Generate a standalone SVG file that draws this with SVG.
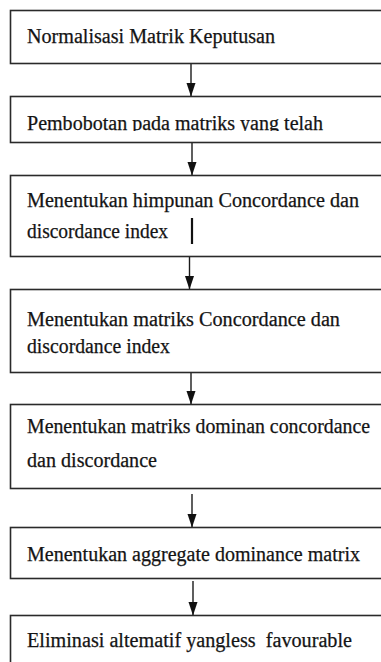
<svg xmlns="http://www.w3.org/2000/svg" width="381" height="662" viewBox="0 0 381 662">
<style>
.box{fill:#fff;stroke:#2a2a2a;stroke-width:1.6}
.t{font-family:"Liberation Serif","Times New Roman",serif;font-size:20px;fill:#141414;stroke:#141414;stroke-width:0.25;white-space:pre}
.c{stroke:#1a1a1a;stroke-width:1.4;fill:none}
</style>
<defs>
<marker id="arr" markerUnits="userSpaceOnUse" markerWidth="14" markerHeight="10" refX="13" refY="5" orient="auto" viewBox="0 0 14 10">
<path d="M0,0.5 L13.5,5 L0,9.5 Z" fill="#111"/>
</marker>
<clipPath id="clip2"><rect x="10" y="96" width="380" height="35"/></clipPath>
</defs>
<rect width="381" height="662" fill="#fff"/>
<g id="connectors">
<line class="c" x1="191" y1="63" x2="191" y2="96" marker-end="url(#arr)"/>
<line class="c" x1="192" y1="142" x2="192" y2="175" marker-end="url(#arr)"/>
<line class="c" x1="189.5" y1="256" x2="189.5" y2="289" marker-end="url(#arr)"/>
<line class="c" x1="191" y1="373" x2="191" y2="404" marker-end="url(#arr)"/>
<line class="c" x1="192" y1="494" x2="192" y2="527" marker-end="url(#arr)"/>
<line class="c" x1="193" y1="581" x2="193" y2="615" marker-end="url(#arr)"/>
</g>
<g id="node1">
<rect class="box" x="10.5" y="10.5" width="400" height="53"/>
<text class="t" x="27" y="43" textLength="248" lengthAdjust="spacingAndGlyphs">Normalisasi Matrik Keputusan</text>
</g>
<g id="node2">
<rect class="box" x="10.5" y="96.5" width="400" height="46"/>
<text class="t" x="27" y="130" textLength="296" lengthAdjust="spacingAndGlyphs" clip-path="url(#clip2)">Pembobotan pada matriks yang telah</text>
</g>
<g id="node3">
<rect class="box" x="10.5" y="175.5" width="400" height="81"/>
<text class="t" x="27" y="206.5" textLength="332" lengthAdjust="spacingAndGlyphs">Menentukan himpunan Concordance dan</text>
<text class="t" x="27" y="237.5" textLength="141" lengthAdjust="spacingAndGlyphs">discordance index</text>
<line x1="192" y1="218" x2="192" y2="244" stroke="#111" stroke-width="2.2"/>
</g>
<g id="node4">
<rect class="box" x="10.5" y="289.5" width="400" height="83"/>
<text class="t" x="27" y="326" textLength="313" lengthAdjust="spacingAndGlyphs">Menentukan matriks Concordance dan</text>
<text class="t" x="27" y="353" textLength="143" lengthAdjust="spacingAndGlyphs">discordance index</text>
</g>
<g id="node5">
<rect class="box" x="10.5" y="404.5" width="400" height="84"/>
<text class="t" x="27" y="433" textLength="343" lengthAdjust="spacingAndGlyphs">Menentukan matriks dominan concordance</text>
<text class="t" x="27" y="467" textLength="130" lengthAdjust="spacingAndGlyphs">dan discordance</text>
</g>
<g id="node6">
<rect class="box" x="10.5" y="527.5" width="400" height="51"/>
<text class="t" x="27" y="560.5" textLength="333" lengthAdjust="spacingAndGlyphs">Menentukan aggregate dominance matrix</text>
</g>
<g id="node7">
<rect class="box" x="10.5" y="615.5" width="400" height="80"/>
<text class="t" x="27" y="647" textLength="325" lengthAdjust="spacingAndGlyphs">Eliminasi altematif yangless  favourable</text>
</g>
</svg>
